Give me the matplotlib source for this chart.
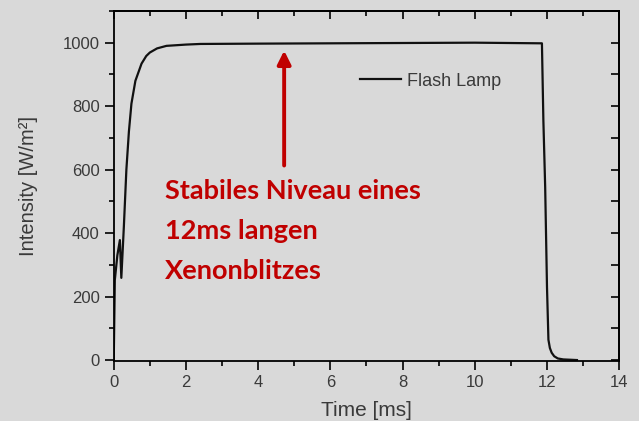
import numpy as np
from matplotlib import pyplot as plt
from matplotlib.ticker import MultipleLocator, NullFormatter

# flash lamp intensity
t = [0.0, 0.03, 0.1, 0.17, 0.21, 0.28, 0.35, 0.42, 0.49, 0.6, 0.77, 0.9, 1.0, 1.2,
     1.46, 2.0, 2.4, 4.0, 6.0, 8.0, 10.0, 11.86, 11.9, 11.95, 12.0, 12.04, 12.08,
     12.13, 12.2, 12.3, 12.45, 12.83]
intensity = [0, 252, 330, 378, 259, 420, 600, 720, 808, 880, 934, 958, 969, 982,
             990, 994, 996, 997, 998, 999, 1000, 998, 755, 545, 231, 64, 38,
             23, 12, 5, 2, 0]

series_name = 'Flash Lamp'
note = 'Stabiles Niveau eines\n12ms langen\nXenonblitzes'
bg = '#d9d9d9'
txt = '#3a3a3a'
red = '#c00000'
sans = ['Liberation Sans', 'DejaVu Sans']

fig = plt.figure(figsize=(6.39, 4.21), dpi=100, facecolor=bg)
ax = fig.add_axes([0.178, 0.1425, 0.791, 0.8315])
ax.set_facecolor(bg)

ax.plot(t, intensity, color='#111111', lw=1.6, label=series_name)
ax.set_xlim(0, 14)
ax.set_ylim(-3, 1100)
ax.xaxis.set_major_locator(MultipleLocator(2))
ax.xaxis.set_minor_locator(MultipleLocator(1))
ax.yaxis.set_major_locator(MultipleLocator(200))
ax.yaxis.set_minor_locator(MultipleLocator(100))
ax.tick_params(which='major', direction='out', length=6.5, width=1.2,
               labelsize=12, labelcolor=txt)
ax.tick_params(which='minor', direction='out', length=3.5, width=1.2)
for s in ax.spines.values():
    s.set_linewidth(1.3)

# inward ticks on top and right, no labels
top = ax.secondary_xaxis('top')
top.xaxis.set_major_locator(MultipleLocator(2))
top.xaxis.set_minor_locator(MultipleLocator(1))
top.xaxis.set_major_formatter(NullFormatter())
top.tick_params(which='major', direction='in', length=6, width=1.2)
top.tick_params(which='minor', direction='in', length=3.5, width=1.2)
right = ax.secondary_yaxis('right')
right.yaxis.set_major_locator(MultipleLocator(200))
right.yaxis.set_minor_locator(MultipleLocator(100))
right.yaxis.set_major_formatter(NullFormatter())
right.tick_params(which='major', direction='in', length=6, width=1.2)
right.tick_params(which='minor', direction='in', length=6, width=1.2)
for sec in (top, right):
    for s in sec.spines.values():
        s.set_linewidth(1.3)

ax.set_xlabel('Time [ms]', fontsize=15, color=txt, labelpad=8, family=sans)
ax.set_ylabel('Intensity [W/m²]', fontsize=14.5, color=txt, labelpad=18, family=sans)

leg = ax.legend(loc='upper left', bbox_to_anchor=(0.455, 0.87), frameon=False,
                handlelength=2.3, handletextpad=0.3, prop={'family': sans, 'size': 13})
for tx in leg.get_texts():
    tx.set_color(txt)

ax.annotate('', xy=(4.72, 975), xytext=(4.72, 613),
            arrowprops=dict(arrowstyle='-|>,head_length=0.8,head_width=0.4',
                            color=red, lw=2.8, shrinkA=0, shrinkB=0))
ax.text(1.42, 572, note, color=red, fontsize=19.5, fontweight='bold',
        family=['Lato', 'DejaVu Sans'], va='top', ha='left', linespacing=1.82)

for lab in ax.get_xticklabels() + ax.get_yticklabels():
    lab.set_family(sans)

fig.savefig('out.png', dpi=100, facecolor=bg)
